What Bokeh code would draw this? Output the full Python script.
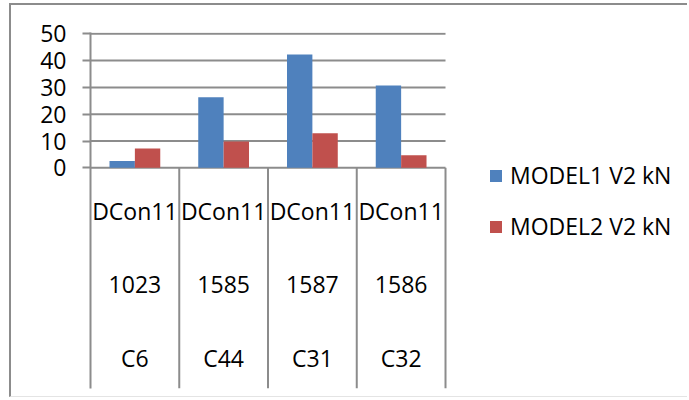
from bokeh.plotting import figure
from bokeh.models import Range1d, FixedTicker, Legend, LegendItem, ColumnDataSource
from bokeh.transform import dodge
from bokeh.core.properties import value
from bokeh.embed import file_html
from bokeh.resources import INLINE

# ---- data ----
load_case = ["DCon11", "DCon11", "DCon11", "DCon11"]
frame_ids = ["1023", "1585", "1587", "1586"]
columns = ["C6", "C44", "C31", "C32"]
model1_v2 = [2.5, 26.3, 42.3, 30.7]
model2_v2 = [7.2, 9.8, 12.9, 4.7]
series_names = ["MODEL1 V2 kN", "MODEL2 V2 kN"]
y_ticks = [0, 10, 20, 30, 40, 50]

BLUE = "#4F81BD"
RED = "#C0504D"
GRID = "#8c8c8c"
FONT = "Open Sans"
FS = "23px"

n = len(columns)
x_pos = [i + 0.5 for i in range(n)]          # category centres on the x scale
y_bottom = -82.35

p = figure(width=678, height=394,
           x_range=Range1d(0, 6.749), y_range=Range1d(y_bottom, 50.49),
           output_backend="svg", toolbar_location=None, x_axis_location=None,
           min_border_left=79, min_border_right=0, min_border_top=27, min_border_bottom=11)
p.outline_line_color = None
p.styles = {"border-left": "2px solid #8c8c8c", "border-top": "2px solid #8c8c8c",
            "border-bottom": "1px solid #e4e4e4",
            "margin-left": "9px", "margin-top": "3px"}

src = ColumnDataSource(dict(x=x_pos, m1=model1_v2, m2=model2_v2))
r1 = p.vbar(x=dodge("x", -0.143), top="m1", width=0.286, source=src,
            fill_color=BLUE, line_color=None)
r2 = p.vbar(x=dodge("x", 0.143), top="m2", width=0.286, source=src,
            fill_color=RED, line_color=None)

# y axis
ax = p.yaxis[0]
ax.ticker = FixedTicker(ticks=y_ticks)
ax.axis_line_color = GRID
ax.axis_line_width = 2
ax.major_tick_line_color = GRID
ax.major_tick_line_width = 2
ax.major_tick_out = 8
ax.major_tick_in = 0
ax.minor_tick_line_color = None
ax.major_label_text_font = FONT
ax.major_label_text_font_size = FS
ax.major_label_text_color = "black"
ax.major_label_standoff = 16

p.xgrid.visible = False
p.ygrid.visible = False

# horizontal gridlines over the category span only
p.segment(x0=[0] * len(y_ticks), x1=[n] * len(y_ticks), y0=y_ticks, y1=y_ticks,
          line_color=GRID, line_width=2, level="underlay")

# category separators
bounds = list(range(1, n + 1))
p.segment(x0=bounds, y0=[0] * n, x1=bounds, y1=[y_bottom] * n,
          line_color=GRID, line_width=2)

# multi-level category labels
row_y = [-16.0, -43.4, -71.0]
for labels, yy in zip([load_case, frame_ids, columns], row_y):
    s = ColumnDataSource(dict(x=x_pos, y=[yy] * n, t=labels))
    p.text(x="x", y="y", text="t", source=s, text_font=value(FONT), text_font_size=FS,
           text_align="center", text_baseline="middle", text_color="black")

legend = Legend(items=[LegendItem(label=series_names[0], renderers=[r1]),
                       LegendItem(label=series_names[1], renderers=[r2])],
                location=(398, 146), glyph_width=15, glyph_height=15, label_height=30,
                spacing=19, label_standoff=7, padding=0, margin=0,
                border_line_color=None, background_fill_alpha=0,
                label_text_font=FONT, label_text_font_size=FS, label_text_color="black")
p.add_layout(legend)

open("out.html", "w").write(file_html(p, INLINE))
